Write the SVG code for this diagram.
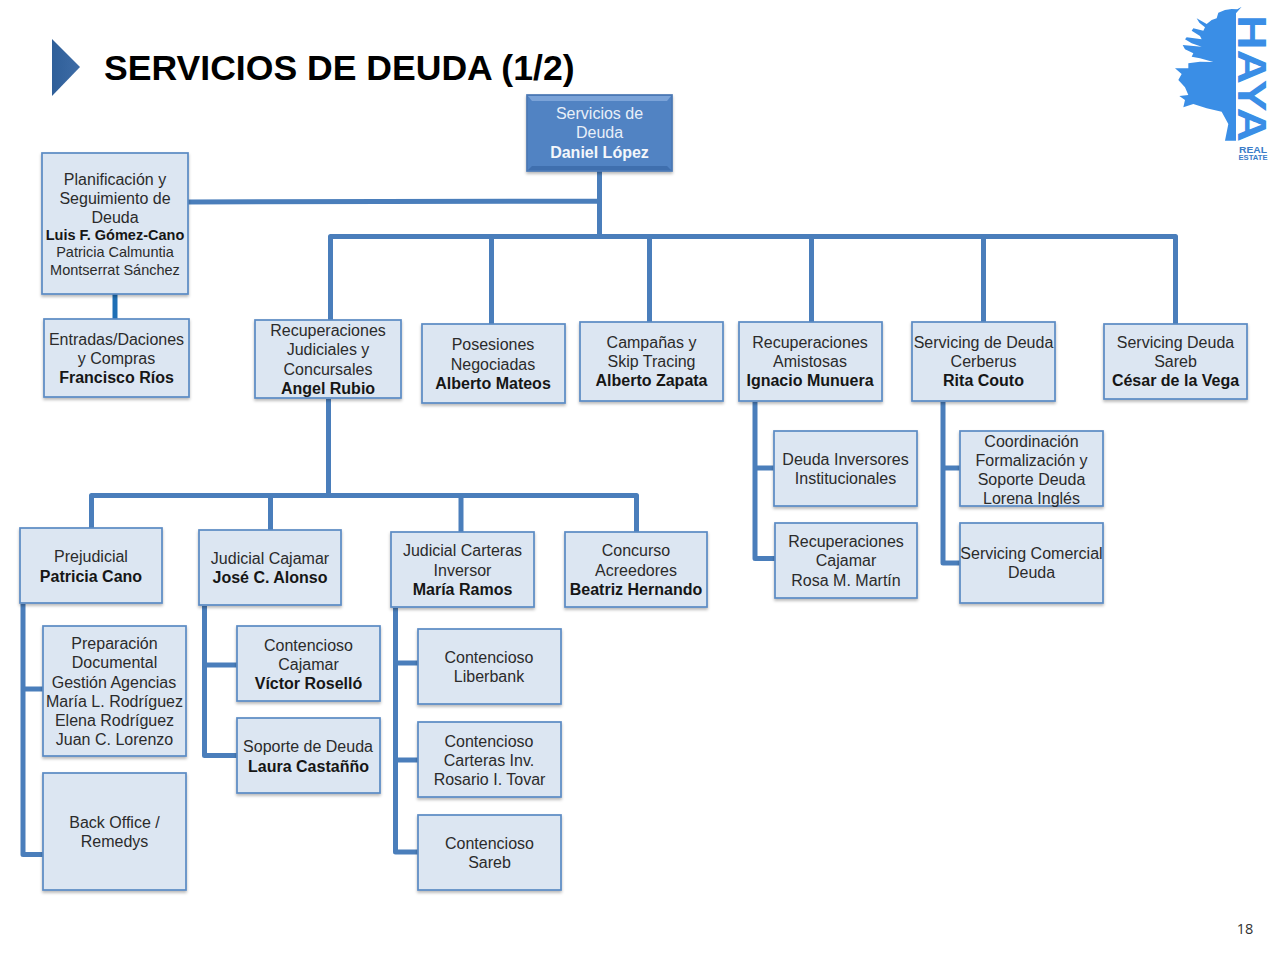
<svg xmlns="http://www.w3.org/2000/svg" width="1280" height="960" viewBox="0 0 1280 960">
<style>
text{font-family:"Liberation Sans",Arial,sans-serif;font-size:16px;fill:#2b2b2b;text-anchor:middle}
.b{font-weight:bold;fill:#161616}
.box{fill:#dce6f2;stroke:#5a8ac4;stroke-width:1.700;filter:url(#sh)}
.c{fill:none;stroke:#4a7ebb;stroke-width:5;stroke-linejoin:round}
.w{fill:#e8eff8}
.s{font-size:14.500px}
.logo{font-weight:bold;fill:#3a8ee6}
</style>
<defs>
<filter id="sh" x="-10%" y="-10%" width="120%" height="120%"><feDropShadow dx="0" dy="2" stdDeviation="1.600" flood-color="#000" flood-opacity="0.28"/></filter>
<linearGradient id="arr" x1="0" x2="1" y1="0" y2="0"><stop offset="0" stop-color="#2f5f99"/><stop offset="1" stop-color="#3e6ca6"/></linearGradient>
</defs>
<rect width="1280" height="960" fill="#fff"/>
<polygon points="52,39 80,67 52,96" fill="url(#arr)"/>
<text x="104" y="80" style="font-size:35.600px;font-weight:bold;fill:#000;text-anchor:start">SERVICIOS DE DEUDA (1/2)</text>
<g id="logo">
<polygon fill="#3a8ee6" transform="translate(1150,0) scale(0.3333)" points="275,20 262,28 245,27 225,30 205,38 200,55 185,60 170,72 140,55 148,68 165,82 160,92 130,85 125,92 150,108 155,118 110,112 105,118 125,130 155,140 98,135 105,148 130,160 125,170 150,175 190,186 150,185 115,190 115,205 75,205 95,222 85,240 105,262 115,285 88,288 105,300 100,322 130,312 170,325 215,335 235,372 225,422 258,422 258,40"/>
<text class="logo" transform="translate(1238,78.500) rotate(90)" style="font-size:40.500px" textLength="127" lengthAdjust="spacingAndGlyphs">HAYA</text>
<text class="logo" x="1253" y="153" style="font-size:8.500px;fill:#3a7cc8" textLength="28" lengthAdjust="spacingAndGlyphs">REAL</text>
<text class="logo" x="1253" y="159.500" style="font-size:6.500px;fill:#3a7cc8" textLength="29" lengthAdjust="spacingAndGlyphs">ESTATE</text>
</g>
<g id="connectors">
<path class="c" d="M599.500 170V236M188 202L599.500 201"/>
<path class="c" d="M330.500 320V236.500H1175.500V324M491.500 236.500V324M649.500 236.500V322M811.500 236.500V322M983.500 236.500V322"/>
<path d="M115 294V319" fill="none" stroke="#1f6fb5" stroke-width="5"/>
<path class="c" d="M328.500 399V495.500M91.500 528V495.500H636.500V532M270.500 495.500V530M461 495.500V532"/>
<path class="c" d="M755 402V558.500H775M755 468H775M943 402V563H960M943 468H960"/>
<path class="c" d="M23 604V854.500H43M23 689H43M204.500 606V755.500H237M204.500 665H237M395.500 608V852H418M395.500 663H418M395.500 760H418"/>
</g>
<g id="n0"><rect x="527" y="95" width="145" height="76" fill="#5183c3" stroke="#4a78b4" stroke-width="1.700" filter="url(#sh)"/><path d="M528 96H671L667 101H532Z" fill="#7ba3d8"/><path d="M528 170H671L667 166H532Z" fill="#3f6fae"/><text x="599.500" y="119" class="w">Servicios de</text><text x="599.500" y="138" class="w">Deuda</text><text x="599.500" y="158" class="b" style="fill:#f4f7fb">Daniel López</text></g>
<g id="n1"><rect class="box" x="42" y="153" width="146" height="141"/><text x="115" y="185">Planificación y</text><text x="115" y="204">Seguimiento de</text><text x="115" y="223">Deuda</text><text x="115" y="240" class="b" style="font-size:14.500px">Luis F. Gómez-Cano</text><text x="115" y="257" class="s">Patricia Calmuntia</text><text x="115" y="275" class="s">Montserrat Sánchez</text></g>
<g id="n2"><rect class="box" x="44" y="319" width="145" height="78"/><text x="116.500" y="345">Entradas/Daciones</text><text x="116.500" y="364">y Compras</text><text x="116.500" y="383" class="b">Francisco Ríos</text></g>
<g id="n3"><rect class="box" x="255" y="320" width="146" height="78"/><text x="328" y="336">Recuperaciones</text><text x="328" y="355">Judiciales y</text><text x="328" y="375">Concursales</text><text x="328" y="394" class="b">Angel Rubio</text></g>
<g id="n4"><rect class="box" x="422" y="324" width="143" height="79"/><text x="493" y="350">Posesiones</text><text x="493" y="370">Negociadas</text><text x="493" y="389" class="b">Alberto Mateos</text></g>
<g id="n5"><rect class="box" x="580" y="322" width="143" height="79"/><text x="651.500" y="348">Campañas y</text><text x="651.500" y="367">Skip Tracing</text><text x="651.500" y="386" class="b">Alberto Zapata</text></g>
<g id="n6"><rect class="box" x="739" y="322" width="143" height="79"/><text x="810" y="348">Recuperaciones</text><text x="810" y="367">Amistosas</text><text x="810" y="386" class="b">Ignacio Munuera</text></g>
<g id="n7"><rect class="box" x="912" y="322" width="143" height="79"/><text x="983.500" y="348">Servicing de Deuda</text><text x="983.500" y="367">Cerberus</text><text x="983.500" y="386" class="b">Rita Couto</text></g>
<g id="n8"><rect class="box" x="1104" y="324" width="143" height="75"/><text x="1175.500" y="348">Servicing Deuda</text><text x="1175.500" y="367">Sareb</text><text x="1175.500" y="386" class="b">César de la Vega</text></g>
<g id="n9"><rect class="box" x="774" y="431" width="143" height="75"/><text x="845.500" y="465">Deuda Inversores</text><text x="845.500" y="484">Institucionales</text></g>
<g id="n10"><rect class="box" x="775" y="523" width="142" height="75"/><text x="846" y="547">Recuperaciones</text><text x="846" y="566">Cajamar</text><text x="846" y="586">Rosa M. Martín</text></g>
<g id="n11"><rect class="box" x="960" y="431" width="143" height="75"/><text x="1031.500" y="447">Coordinación</text><text x="1031.500" y="466">Formalización y</text><text x="1031.500" y="485">Soporte Deuda</text><text x="1031.500" y="504">Lorena Inglés</text></g>
<g id="n12"><rect class="box" x="960" y="523" width="143" height="80"/><text x="1031.500" y="559">Servicing Comercial</text><text x="1031.500" y="578">Deuda</text></g>
<g id="n13"><rect class="box" x="20" y="528" width="142" height="75"/><text x="91" y="562">Prejudicial</text><text x="91" y="582" class="b">Patricia Cano</text></g>
<g id="n14"><rect class="box" x="199" y="530" width="142" height="75"/><text x="270" y="564">Judicial Cajamar</text><text x="270" y="583" class="b">José C. Alonso</text></g>
<g id="n15"><rect class="box" x="391" y="532" width="143" height="75"/><text x="462.500" y="556">Judicial Carteras</text><text x="462.500" y="576">Inversor</text><text x="462.500" y="595" class="b">María Ramos</text></g>
<g id="n16"><rect class="box" x="565" y="532" width="142" height="75"/><text x="636" y="556">Concurso</text><text x="636" y="576">Acreedores</text><text x="636" y="595" class="b">Beatriz Hernando</text></g>
<g id="n17"><rect class="box" x="43" y="626" width="143" height="130"/><text x="114.500" y="649">Preparación</text><text x="114.500" y="668">Documental</text><text x="114" y="688">Gestión Agencias</text><text x="114.500" y="707">María L. Rodríguez</text><text x="114.500" y="726">Elena Rodríguez</text><text x="114.500" y="745">Juan C. Lorenzo</text></g>
<g id="n18"><rect class="box" x="43" y="773" width="143" height="117"/><text x="114.500" y="828">Back Office /</text><text x="114.500" y="847">Remedys</text></g>
<g id="n19"><rect class="box" x="237" y="626" width="143" height="75"/><text x="308.500" y="651">Contencioso</text><text x="308.500" y="670">Cajamar</text><text x="308.500" y="689" class="b">Víctor Roselló</text></g>
<g id="n20"><rect class="box" x="237" y="718" width="143" height="75"/><text x="308" y="752">Soporte de Deuda</text><text x="308.500" y="772" class="b">Laura Castañño</text></g>
<g id="n21"><rect class="box" x="418" y="629" width="143" height="75"/><text x="489" y="663">Contencioso</text><text x="489" y="682">Liberbank</text></g>
<g id="n22"><rect class="box" x="418" y="722" width="143" height="75"/><text x="489" y="747">Contencioso</text><text x="489" y="766">Carteras Inv.</text><text x="489.500" y="785">Rosario I. Tovar</text></g>
<g id="n23"><rect class="box" x="418" y="815" width="143" height="75"/><text x="489.500" y="849">Contencioso</text><text x="489.500" y="868">Sareb</text></g>
<text x="1245" y="933.500" style="font-family:'Open Sans',sans-serif;font-size:14.500px;fill:#333">18</text>
</svg>
